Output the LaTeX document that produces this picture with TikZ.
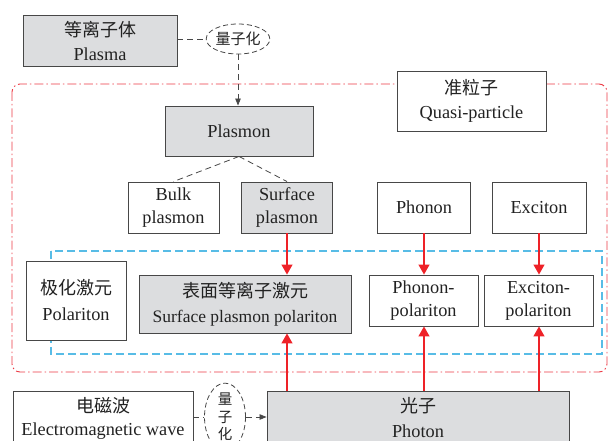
\documentclass[tikz,border=0pt]{standalone}
\usepackage{fontspec}
\setmainfont{Liberation Serif}
\newfontfamily\cjk{Noto Sans CJK SC}
\usetikzlibrary{arrows.meta,shapes.geometric,calc}
\definecolor{boxgray}{HTML}{DCDDDF}
\definecolor{boxline}{HTML}{474747}
\definecolor{txt}{HTML}{222222}
\definecolor{redline}{HTML}{EE2228}
\definecolor{reddash}{HTML}{EC3A44}
\definecolor{bluedash}{HTML}{58BCE6}
\newcommand{\zh}[1]{{\cjk\fontsize{18}{22}\selectfont #1}}
\newcommand{\zhs}[1]{{\cjk\fontsize{15}{18}\selectfont #1}}
\begin{document}
\begin{tikzpicture}[x=1pt,y=-1pt,
  box/.style={draw=boxline, line width=0.9pt, inner sep=0pt, align=center, text=txt,
    font=\fontsize{18.3}{24}\selectfont},
  gbox/.style={box, fill=boxgray},
  wbox/.style={box, fill=white},
  qell/.style={ellipse, draw=boxline, dashed, dash pattern=on 5pt off 3pt, line width=0.8pt,
    inner sep=0pt, fill=white, text=txt, align=center},
  blkdash/.style={draw=boxline, line width=0.8pt, dash pattern=on 6pt off 4pt},
  blkarrow/.style={blkdash, -{Triangle[length=7pt,width=5.5pt]}},
  redarrow/.style={draw=redline, line width=1.2pt, -{Triangle[length=10pt,width=11pt]}}
]
\useasboundingbox (0,0) rectangle (610,441);
\clip (0,0) rectangle (610,441);

% frames
\draw[reddash, line width=0.9pt, rounded corners=8pt,
  dash pattern=on 9pt off 3pt on 1.5pt off 3pt] (12,84) rectangle (607,372);
\draw[bluedash, line width=1.2pt, dash pattern=on 8pt off 4pt] (51,251) rectangle (602,354);

% nodes
\node[gbox, minimum width=154pt, minimum height=51pt] (plasma) at (100,40.5) {\zh{等离子体}\\Plasma};
\node[qell, minimum width=59pt, minimum height=30pt] (q1) at (238,39) {\zhs{量子化}};
\node[gbox, minimum width=148pt, minimum height=50pt] (plasmon) at (239,131) {Plasmon};
\node[wbox, minimum width=149pt, minimum height=60pt] (quasi) at (471.5,101) {\zh{准粒子}\\Quasi-particle};
\node[wbox, minimum width=91pt, minimum height=51pt, font=\fontsize{18.3}{23}\selectfont] (bulk) at (173.5,207.5) {Bulk\\plasmon};
\node[gbox, minimum width=91pt, minimum height=51pt, font=\fontsize{18.3}{23}\selectfont] (surf) at (287,207.5) {Surface\\plasmon};
\node[wbox, minimum width=93pt, minimum height=51pt] (phonon) at (424,207.5) {Phonon};
\node[wbox, minimum width=94pt, minimum height=51pt] (exciton) at (539,207.5) {Exciton};
\node[wbox, minimum width=100pt, minimum height=79pt, font=\fontsize{18.3}{26}\selectfont] (polar) at (76,300.5) {\zh{极化激元}\\Polariton};
\node[gbox, minimum width=212pt, minimum height=58pt, font=\fontsize{17.5}{25}\selectfont] (spp) at (245,304) {\zh{表面等离子激元}\\Surface plasmon polariton};
\node[wbox, minimum width=109pt, minimum height=51pt, font=\fontsize{18.3}{23}\selectfont] (phpol) at (423.5,300.5) {Phonon-\\polariton};
\node[wbox, minimum width=109pt, minimum height=51pt, font=\fontsize{18.3}{23}\selectfont] (expol) at (538.5,300.5) {Exciton-\\polariton};
\node[wbox, minimum width=180pt, minimum height=55pt, font=\fontsize{18.3}{23}\selectfont] (em) at (103,418.5) {\zh{电磁波}\\Electromagnetic wave};
\node[qell, minimum width=41pt, minimum height=66pt, font=\cjk\fontsize{14.5}{17.5}\selectfont] (q2) at (225,417) {量\\子\\化};
\node[gbox, minimum width=302pt, minimum height=53pt, font=\fontsize{18.3}{25}\selectfont] (photon) at (418,417.5) {\zh{光子}\\Photon};

% black dashed connectors
\draw[blkdash] (plasma.east |- q1.west) -- (q1.west);
\draw[blkarrow] (q1.south) -- (q1.south |- plasmon.north);
\draw[blkdash] (plasmon.south) -- (bulk.north);
\draw[blkdash] (plasmon.south) -- (surf.north);
\draw[blkdash] (em.east |- q2.west) -- (q2.west);
\draw[blkarrow] (q2.east) -- (photon.west |- q2.east);

% red arrows
\draw[redarrow] (surf.south) -- (surf.south |- spp.north);
\draw[redarrow] (phonon.south) -- (phonon.south |- phpol.north);
\draw[redarrow] (exciton.south) -- (exciton.south |- expol.north);
\draw[redarrow] (surf.south |- photon.north) -- (surf.south |- spp.south);
\draw[redarrow] (phonon.south |- photon.north) -- (phonon.south |- phpol.south);
\draw[redarrow] (exciton.south |- photon.north) -- (exciton.south |- expol.south);
\end{tikzpicture}
\end{document}
